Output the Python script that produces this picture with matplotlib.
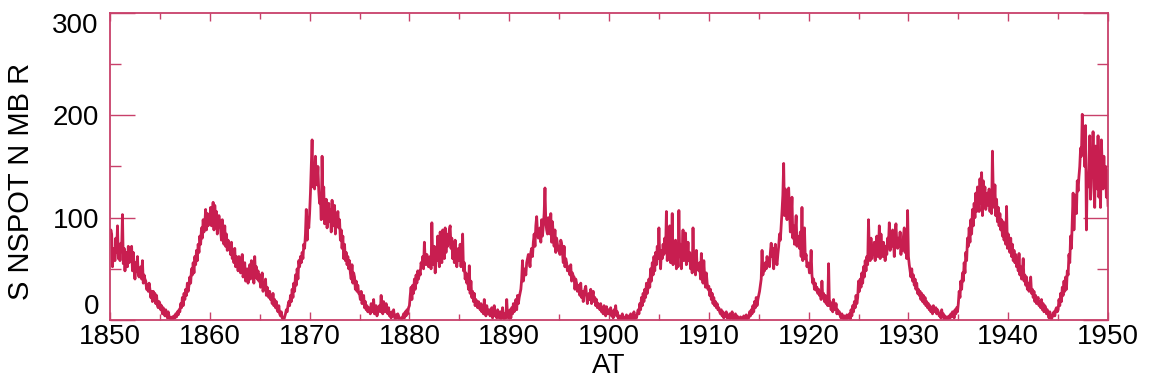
import numpy as np
import matplotlib
matplotlib.use('Agg')
import matplotlib.pyplot as plt
from matplotlib.ticker import MultipleLocator

plt.rcParams['font.family'] = ['Liberation Sans', 'DejaVu Sans']

# monthly sunspot numbers, one row per year, Jan..Dec
ssn_1850s = [
    80, 88, 84, 52, 70, 62, 58, 80, 66, 92, 60, 72,
    58, 75, 70, 103, 55, 70, 48, 64, 66, 52, 72, 56,
    68, 62, 72, 48, 66, 50, 40, 56, 48, 62, 44, 42,
    48, 52, 40, 58, 36, 44, 40, 38, 30, 34, 28, 36,
    30, 22, 28, 18, 28, 20, 26, 16, 24, 14, 12, 18,
    16, 10, 14, 6, 12, 8, 4, 10, 6, 2, 8, 4,
    1, 2, 0, 3, 1, 4, 2, 6, 3, 8, 5, 10,
    8, 16, 12, 22, 14, 26, 20, 30, 24, 36, 28, 34,
    42, 36, 50, 44, 56, 46, 62, 54, 68, 58, 74, 66,
    82, 74, 90, 80, 98, 86, 94, 108, 88, 104, 92, 100,
]
ssn_1860s = [
    98, 110, 92, 104, 115, 88, 112, 98, 106, 84, 96, 102,
    96, 88, 78, 98, 82, 74, 92, 72, 84, 68, 78, 74,
    72, 64, 76, 60, 68, 56, 70, 52, 62, 58, 48, 62,
    60, 46, 52, 64, 42, 48, 56, 38, 46, 50, 36, 42,
    54, 40, 58, 44, 50, 36, 62, 42, 52, 40, 48, 38,
    44, 32, 38, 46, 28, 34, 30, 40, 24, 32, 26, 22,
    28, 20, 24, 16, 26, 14, 20, 12, 18, 10, 8, 14,
    6, 4, 8, 2, 1, 0, 3, 6, 10, 8, 14, 18,
    14, 24, 18, 30, 22, 36, 28, 44, 34, 50, 40, 58,
    52, 62, 56, 66, 60, 74, 70, 84, 108, 78, 100, 90,
]
ssn_1870s = [
    104, 124, 150, 176, 130, 152, 128, 160, 138, 132, 150, 126,
    114, 122, 98, 160, 112, 130, 94, 106, 118, 90, 100, 114,
    96, 108, 86, 117, 100, 92, 112, 84, 104, 96, 106, 90,
    98, 78, 88, 70, 82, 60, 74, 58, 66, 54, 62, 50,
    58, 46, 40, 54, 36, 46, 42, 30, 38, 28, 34, 26,
    26, 20, 28, 16, 20, 24, 12, 18, 10, 14, 8, 12,
    10, 6, 16, 12, 8, 20, 6, 10, 14, 4, 8, 12,
    14, 8, 24, 10, 6, 18, 12, 8, 16, 10, 6, 12,
    4, 7, 2, 8, 4, 10, 3, 1, 5, 2, 6, 4,
    1, 0, 2, 1, 3, 6, 2, 8, 4, 10, 6, 12,
]
ssn_1880s = [
    14, 24, 32, 20, 34, 26, 40, 30, 44, 36, 48, 40,
    48, 44, 56, 52, 62, 50, 76, 58, 54, 64, 60, 52,
    56, 62, 50, 95, 60, 54, 72, 46, 66, 58, 82, 62,
    52, 86, 64, 56, 88, 70, 60, 90, 66, 84, 72, 76,
    88, 92, 70, 80, 60, 76, 56, 78, 66, 52, 62, 70,
    58, 74, 52, 64, 84, 48, 56, 40, 46, 36, 42, 30,
    53, 26, 38, 22, 28, 18, 26, 14, 20, 16, 12, 18,
    14, 10, 16, 8, 12, 6, 20, 10, 4, 14, 8, 6,
    10, 4, 8, 12, 2, 6, 14, 4, 8, 2, 10, 6,
    2, 8, 1, 4, 12, 3, 1, 6, 2, 20, 4, 2,
]
ssn_1890s = [
    4, 10, 2, 12, 6, 16, 8, 14, 20, 10, 24, 16,
    22, 26, 30, 40, 58, 38, 46, 50, 44, 56, 60, 64,
    60, 52, 66, 70, 62, 76, 84, 72, 92, 101, 86, 80,
    84, 90, 76, 98, 82, 92, 104, 129, 96, 88, 84, 100,
    92, 84, 104, 76, 96, 82, 72, 88, 66, 80, 74, 68,
    72, 64, 78, 75, 66, 56, 72, 52, 60, 56, 48, 52,
    50, 44, 54, 38, 46, 43, 42, 30, 40, 36, 28, 34,
    30, 24, 36, 22, 28, 18, 26, 30, 33, 24, 16, 22,
    26, 20, 30, 16, 24, 28, 18, 22, 14, 20, 12, 16,
    14, 10, 16, 8, 12, 6, 14, 10, 4, 13, 8, 6,
]
ssn_1900s = [
    10, 6, 12, 4, 8, 2, 10, 6, 14, 4, 8, 2,
    1, 4, 2, 0, 6, 1, 3, 2, 0, 5, 1, 2,
    4, 1, 6, 2, 0, 3, 8, 1, 4, 2, 6, 10,
    6, 16, 10, 22, 14, 26, 18, 30, 22, 36, 26, 32,
    40, 32, 50, 38, 56, 44, 62, 48, 66, 54, 72, 60,
    90, 62, 50, 68, 60, 74, 64, 80, 66, 106, 58, 76,
    62, 92, 56, 68, 104, 54, 72, 60, 78, 50, 64, 52,
    107, 62, 74, 50, 68, 88, 58, 64, 85, 54, 60, 76,
    58, 66, 50, 62, 46, 90, 52, 58, 44, 68, 50, 54,
    48, 56, 40, 65, 44, 36, 58, 42, 32, 46, 36, 30,
]
ssn_1910s = [
    33, 24, 30, 20, 26, 16, 22, 14, 18, 12, 16, 10,
    12, 8, 6, 10, 4, 8, 2, 6, 4, 8, 2, 4,
    2, 6, 1, 4, 8, 2, 0, 3, 6, 1, 4, 2,
    0, 1, 3, 0, 2, 1, 4, 0, 2, 5, 1, 3,
    2, 8, 4, 10, 6, 14, 8, 18, 12, 22, 14, 20,
    24, 28, 34, 40, 68, 44, 52, 48, 56, 50, 62, 54,
    60, 52, 66, 75, 62, 70, 50, 66, 74, 58, 54, 64,
    72, 84, 78, 92, 106, 122, 153, 102, 128, 112, 98, 120,
    129, 106, 86, 100, 120, 80, 92, 74, 88, 102, 72, 82,
    78, 70, 86, 62, 110, 58, 68, 90, 60, 64, 52, 56,
]
ssn_1920s = [
    54, 46, 50, 68, 44, 36, 40, 30, 36, 29, 32, 26,
    30, 24, 28, 20, 38, 22, 26, 18, 24, 16, 20, 14,
    55, 14, 18, 10, 14, 8, 20, 12, 10, 16, 6, 10,
    6, 8, 4, 2, 6, 3, 1, 4, 2, 0, 5, 2,
    2, 6, 1, 10, 4, 14, 8, 18, 12, 24, 16, 22,
    38, 28, 40, 32, 46, 36, 52, 42, 58, 48, 62, 54,
    98, 66, 58, 80, 60, 72, 64, 76, 58, 68, 82, 62,
    68, 92, 60, 84, 66, 62, 76, 70, 58, 72, 64, 80,
    74, 95, 68, 82, 72, 88, 78, 62, 84, 94, 76, 70,
    80, 72, 86, 64, 76, 68, 82, 90, 66, 78, 60, 107,
]
ssn_1930s = [
    62, 54, 48, 42, 50, 38, 44, 34, 40, 30, 36, 26,
    30, 24, 28, 20, 26, 18, 24, 16, 22, 14, 18, 12,
    16, 10, 14, 8, 12, 6, 14, 10, 8, 12, 6, 10,
    8, 4, 6, 2, 10, 3, 6, 1, 4, 2, 0, 3,
    1, 4, 2, 6, 3, 8, 5, 2, 10, 6, 12, 8,
    16, 28, 22, 38, 30, 46, 38, 56, 46, 66, 58, 80,
    72, 90, 76, 98, 84, 108, 92, 114, 100, 124, 106, 130,
    118, 106, 138, 114, 144, 102, 136, 120, 130, 108, 116, 124,
    112, 128, 106, 120, 104, 165, 124, 110, 132, 102, 118, 96,
    110, 92, 104, 88, 98, 82, 96, 78, 90, 74, 111, 70,
]
ssn_1940s = [
    84, 72, 66, 80, 62, 74, 58, 68, 56, 64, 52, 60,
    48, 65, 44, 52, 40, 48, 60, 38, 44, 34, 42, 30,
    36, 28, 34, 42, 26, 30, 22, 28, 18, 24, 16, 20,
    22, 14, 18, 12, 20, 10, 16, 8, 14, 12, 6, 10,
    6, 2, 8, 4, 1, 3, 6, 8, 4, 10, 12, 8,
    10, 20, 14, 26, 18, 32, 24, 38, 28, 42, 30, 48,
    44, 64, 56, 82, 70, 96, 124, 88, 110, 122, 104, 136,
    126, 140, 150, 168, 160, 201, 172, 186, 150, 190, 88, 140,
    130, 148, 180, 118, 160, 140, 184, 130, 110, 170, 150, 128,
    180, 120, 140, 110, 176, 150, 128, 160, 130, 150, 120, 146,
]
ssn_1950 = [112]

start_year = 1850
ssn = np.array(ssn_1850s + ssn_1860s + ssn_1870s + ssn_1880s + ssn_1890s +
               ssn_1900s + ssn_1910s + ssn_1920s + ssn_1930s + ssn_1940s +
               ssn_1950, dtype=float)
dates = start_year + np.arange(len(ssn)) / 12.0

frame = '#c8406a'
line_col = '#c81e50'

fig = plt.figure(figsize=(11.53, 3.88), dpi=100)
ax = fig.add_axes([0.0954, 0.1753, 0.8656, 0.7912])

ax.plot(dates, ssn, color=line_col, lw=2.0)

ax.set_xlim(1850, 1950)
ax.set_ylim(0, 300)
ax.set_xticks(range(1850, 1951, 10))
ax.set_yticks([0, 100, 200, 300])
ax.xaxis.set_minor_locator(MultipleLocator(5))
ax.yaxis.set_minor_locator(MultipleLocator(50))

for s in ax.spines.values():
    s.set_color(frame)
    s.set_linewidth(1.3)

ax.tick_params(axis='both', which='both', direction='in', colors=frame,
               labelcolor='black', labelsize=20, top=True, right=True)
ax.tick_params(axis='x', which='major', length=6, width=1, pad=3)
ax.tick_params(axis='x', which='minor', length=4, width=1)
ax.tick_params(axis='y', which='major', length=18, width=1, pad=8)
ax.tick_params(axis='y', which='minor', length=8, width=1)

# keep the end labels inside the frame height
ylabels = ax.get_yticklabels()
ylabels[0].set_va('bottom')
ylabels[-1].set_va('top')

ax.set_ylabel('S NSPOT N MB R', fontsize=21)
ax.yaxis.set_label_coords(-0.075, 0.45)
ax.set_xlabel('AT', fontsize=20, labelpad=2)

plt.savefig('out.png', dpi=100)
